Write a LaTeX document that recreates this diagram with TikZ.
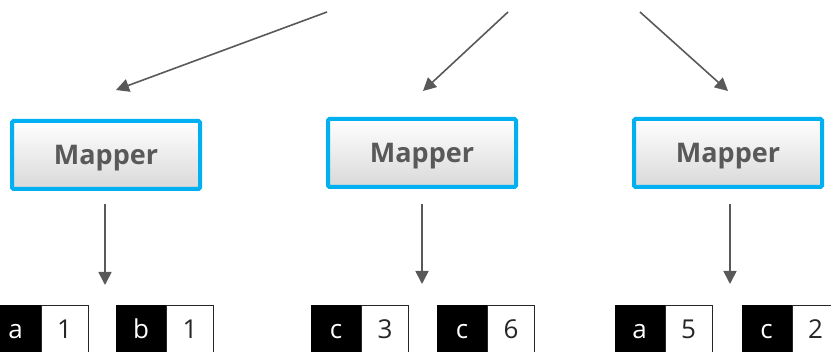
\documentclass[tikz,border=0pt]{standalone}
\usepackage{fontspec}
\setmainfont{Open Sans}
\usetikzlibrary{arrows.meta}
\definecolor{mblue}{HTML}{00B0F0}
\definecolor{agray}{HTML}{595959}
\definecolor{tgray}{HTML}{595959}
\begin{document}
\begin{tikzpicture}[x=1pt,y=-1pt,
  mapper/.style={draw=mblue, line width=4pt, rounded corners=1.5pt,
    top color=white, bottom color=black!15, minimum width=188pt, minimum height=68pt,
    inner sep=0pt, text height=19pt, text depth=0pt,
    font=\fontsize{27}{27}\selectfont\bfseries, text=tgray},
  arr/.style={draw=agray, line width=1.6pt, -{Triangle[length=13pt,width=13pt]}},
  keybox/.style={fill=black, draw=black, line width=1pt, minimum width=49pt, minimum height=48pt,
    inner sep=0pt, text height=18pt, text depth=0pt, text=white,
    font=\fontsize{26}{26}\selectfont},
  valbox/.style={fill=white, draw=black!85, line width=1pt, minimum width=47pt, minimum height=48pt,
    inner sep=0pt, text height=18pt, text depth=0pt, text=black!85, anchor=west,
    font=\fontsize{26}{26}\selectfont}]
\useasboundingbox (0,0) rectangle (831,352);
\clip (0,0) rectangle (831,352);
% mappers
\node[mapper] (m1) at (106,155) {Mapper};
\node[mapper] (m2) at (422,153) {Mapper};
\node[mapper] (m3) at (728,153) {Mapper};
% top arrows
\coordinate (s1) at (327,12);
\coordinate (t1) at (116,90);
\coordinate (s2) at (508,12);
\coordinate (t2) at (423,91);
\coordinate (s3) at (640,12);
\coordinate (t3) at (728,91);
\draw[arr] (s1) -- (t1);
\draw[arr] (s2) -- (t2);
\draw[arr] (s3) -- (t3);
% down arrows
\coordinate (d1s) at (105,204);
\coordinate (d1e) at (105,285);
\coordinate (d2s) at (422,204);
\coordinate (d2e) at (422,284);
\coordinate (d3s) at (730,204);
\coordinate (d3e) at (730,284);
\draw[arr] (d1s) -- (d1e);
\draw[arr] (d2s) -- (d2e);
\draw[arr] (d3s) -- (d3e);
% key-value pairs
\node[keybox] (k1) at (15.5,330) {a};
\node[valbox] (v1) at (k1.east) {1};
\node[keybox] (k2) at (141,330) {b};
\node[valbox] (v2) at (k2.east) {1};
\node[keybox] (k3) at (336,330) {c};
\node[valbox] (v3) at (k3.east) {3};
\node[keybox] (k4) at (462,330) {c};
\node[valbox] (v4) at (k4.east) {6};
\node[keybox] (k5) at (639.5,330) {a};
\node[valbox] (v5) at (k5.east) {5};
\node[keybox] (k6) at (766.5,330) {c};
\node[valbox] (v6) at (k6.east) {2};
\end{tikzpicture}
\end{document}
